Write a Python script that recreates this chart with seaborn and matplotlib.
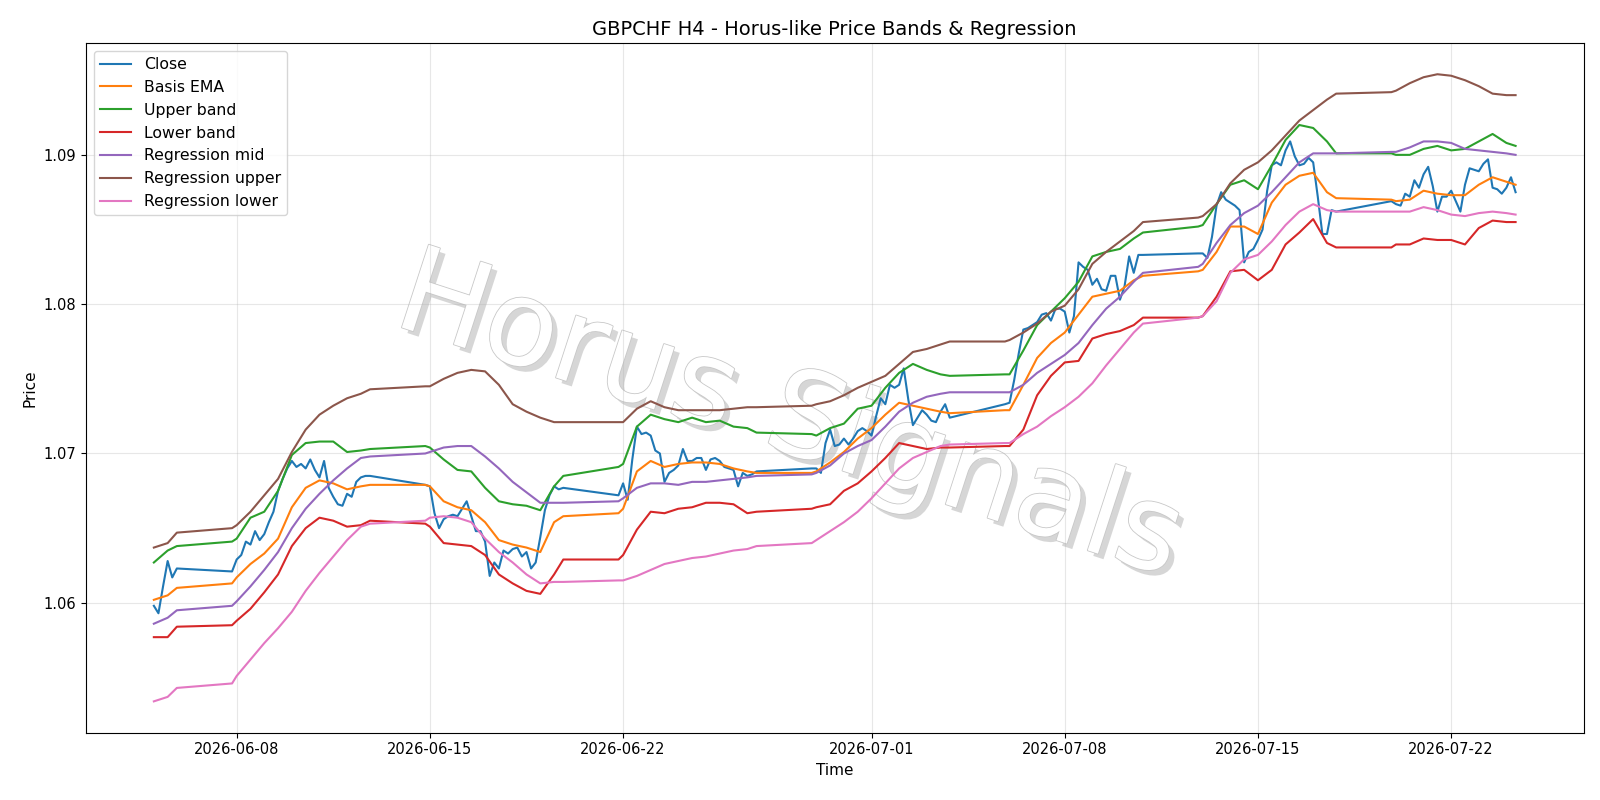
import numpy as np
import pandas as pd
import matplotlib
matplotlib.use("Agg")
import matplotlib.pyplot as plt
import matplotlib.patheffects as pe
import seaborn as sns

# ---------------- data ----------------
# H4 bar closes, one value per bar (Fri 06-05 00:00 ... Fri 07-24 08:00, weekend gap)
close = [
    1.0598, 1.0593, 1.0611, 1.0628, 1.0617, 1.0623,          # 06-05
    1.0621,                                                   # Sun 06-07 20h
    1.0629, 1.0632, 1.0641, 1.0639, 1.0648, 1.0642,          # 06-08
    1.0646, 1.0654, 1.0661, 1.0675, 1.0683, 1.0690,          # 06-09
    1.0695, 1.0691, 1.0693, 1.0690, 1.0696, 1.0689,          # 06-10
    1.0684, 1.0695, 1.0677, 1.0671, 1.0666, 1.0665,          # 06-11
    1.0673, 1.0671, 1.0681, 1.0684, 1.0685, 1.0685,          # 06-12
    1.0679,                                                   # Sun 06-14
    1.0678, 1.0660, 1.0650, 1.0656, 1.0658, 1.0659,          # 06-15
    1.0658, 1.0663, 1.0668, 1.0658, 1.0648, 1.0648,          # 06-16
    1.0641, 1.0618, 1.0627, 1.0623, 1.0635, 1.0633,          # 06-17
    1.0636, 1.0637, 1.0631, 1.0634, 1.0623, 1.0627,          # 06-18
    1.0644, 1.0662, 1.0672, 1.0678, 1.0676, 1.0677,          # 06-19
    1.0672,                                                   # Sun 06-21
    1.0680, 1.0669, 1.0696, 1.0718, 1.0713, 1.0714,          # 06-22
    1.0712, 1.0702, 1.0700, 1.0681, 1.0687, 1.0689,          # 06-23
    1.0692, 1.0703, 1.0695, 1.0695, 1.0697, 1.0697,          # 06-24
    1.0689, 1.0696, 1.0697, 1.0695, 1.0691, 1.0690,          # 06-25
    1.0689, 1.0678, 1.0687, 1.0685, 1.0686, 1.0688,          # 06-26
    1.0690,                                                   # Sun 06-28
    1.0690, 1.0687, 1.0707, 1.0716, 1.0705, 1.0706,          # 06-29
    1.0710, 1.0706, 1.0710, 1.0715, 1.0717, 1.0715,          # 06-30
    1.0712, 1.0725, 1.0737, 1.0733, 1.0746, 1.0744,          # 07-01
    1.0746, 1.0757, 1.0736, 1.0719, 1.0724, 1.0729,          # 07-02
    1.0726, 1.0722, 1.0721, 1.0728, 1.0733, 1.0724,          # 07-03
    1.0733,                                                   # Sun 07-05
    1.0734, 1.0749, 1.0767, 1.0783, 1.0784, 1.0786,          # 07-06
    1.0788, 1.0793, 1.0794, 1.0789, 1.0797, 1.0797,          # 07-07
    1.0795, 1.0781, 1.0792, 1.0828, 1.0825, 1.0823,          # 07-08
    1.0813, 1.0817, 1.0810, 1.0809, 1.0819, 1.0819,          # 07-09
    1.0803, 1.0812, 1.0832, 1.0821, 1.0833, 1.0833,          # 07-10
    1.0834,                                                   # Sun 07-12
    1.0834, 1.0831, 1.0845, 1.0866, 1.0875, 1.0870,          # 07-13
    1.0868, 1.0866, 1.0863, 1.0828, 1.0835, 1.0837,          # 07-14
    1.0843, 1.0850, 1.0876, 1.0893, 1.0895, 1.0893,          # 07-15
    1.0903, 1.0909, 1.0899, 1.0893, 1.0894, 1.0898,          # 07-16
    1.0895, 1.0872, 1.0847, 1.0847, 1.0863, 1.0862,          # 07-17
    1.0869,                                                   # Sun 07-19
    1.0867, 1.0866, 1.0874, 1.0872, 1.0883, 1.0878,          # 07-20
    1.0887, 1.0892, 1.0879, 1.0862, 1.0872, 1.0872,          # 07-21
    1.0876, 1.0869, 1.0862, 1.0880, 1.0891, 1.0890,          # 07-22
    1.0889, 1.0894, 1.0897, 1.0878, 1.0877, 1.0874,          # 07-23
    1.0878, 1.0885, 1.0875,                                   # 07-24
]

# band values read at 00h/12h of each session day, plus Fri 20h and Sun 20h
basis_ema = [
    1.0602, 1.0605, 1.0610, 1.0613, 1.0617, 1.0626, 1.0633, 1.0643, 1.0664, 1.0677,
    1.0682, 1.0680, 1.0676, 1.0678, 1.0679, 1.0679, 1.0678, 1.0668, 1.0664, 1.0662,
    1.0654, 1.0642, 1.0639, 1.0637, 1.0634, 1.0654, 1.0658, 1.0660, 1.0663, 1.0688,
    1.0695, 1.0691, 1.0693, 1.0694, 1.0694, 1.0693, 1.0690, 1.0688, 1.0687, 1.0687,
    1.0688, 1.0694, 1.0701, 1.0710, 1.0717, 1.0726, 1.0734, 1.0732, 1.0730, 1.0728,
    1.0727, 1.0729, 1.0729, 1.0746, 1.0764, 1.0774, 1.0781, 1.0793, 1.0805, 1.0807,
    1.0809, 1.0816, 1.0819, 1.0822, 1.0823, 1.0835, 1.0852, 1.0852, 1.0847, 1.0868,
    1.0880, 1.0886, 1.0888, 1.0875, 1.0871, 1.0870, 1.0869, 1.0870, 1.0876, 1.0874,
    1.0873, 1.0873, 1.0880, 1.0885, 1.0882, 1.0880,
]
upper_band = [
    1.0627, 1.0635, 1.0638, 1.0641, 1.0643, 1.0657, 1.0661, 1.0675, 1.0699, 1.0707,
    1.0708, 1.0708, 1.0701, 1.0702, 1.0703, 1.0705, 1.0704, 1.0696, 1.0689, 1.0688,
    1.0677, 1.0668, 1.0666, 1.0665, 1.0662, 1.0678, 1.0685, 1.0691, 1.0693, 1.0718,
    1.0726, 1.0723, 1.0721, 1.0724, 1.0721, 1.0722, 1.0718, 1.0717, 1.0714, 1.0713,
    1.0712, 1.0717, 1.0720, 1.0730, 1.0732, 1.0744, 1.0754, 1.0760, 1.0756, 1.0753,
    1.0752, 1.0753, 1.0753, 1.0769, 1.0786, 1.0795, 1.0804, 1.0815, 1.0832, 1.0835,
    1.0837, 1.0844, 1.0848, 1.0852, 1.0853, 1.0867, 1.0880, 1.0883, 1.0877, 1.0893,
    1.0910, 1.0920, 1.0918, 1.0909, 1.0901, 1.0901, 1.0900, 1.0900, 1.0904, 1.0906,
    1.0903, 1.0904, 1.0909, 1.0914, 1.0908, 1.0906,
]
lower_band = [
    1.0577, 1.0577, 1.0584, 1.0585, 1.0588, 1.0596, 1.0607, 1.0619, 1.0638, 1.0650,
    1.0657, 1.0655, 1.0651, 1.0652, 1.0655, 1.0653, 1.0651, 1.0640, 1.0639, 1.0638,
    1.0632, 1.0619, 1.0613, 1.0608, 1.0606, 1.0619, 1.0629, 1.0629, 1.0632, 1.0649,
    1.0661, 1.0660, 1.0663, 1.0664, 1.0667, 1.0667, 1.0666, 1.0660, 1.0661, 1.0663,
    1.0664, 1.0666, 1.0675, 1.0680, 1.0688, 1.0697, 1.0707, 1.0705, 1.0703, 1.0704,
    1.0704, 1.0705, 1.0705, 1.0716, 1.0739, 1.0752, 1.0761, 1.0762, 1.0777, 1.0780,
    1.0782, 1.0786, 1.0791, 1.0791, 1.0792, 1.0805, 1.0822, 1.0823, 1.0816, 1.0823,
    1.0840, 1.0848, 1.0857, 1.0841, 1.0838, 1.0838, 1.0840, 1.0840, 1.0844, 1.0843,
    1.0843, 1.0840, 1.0851, 1.0856, 1.0855, 1.0855,
]
reg_mid = [
    1.0586, 1.0590, 1.0595, 1.0598, 1.0601, 1.0611, 1.0622, 1.0634, 1.0650, 1.0663,
    1.0673, 1.0682, 1.0690, 1.0697, 1.0698, 1.0700, 1.0701, 1.0704, 1.0705, 1.0705,
    1.0698, 1.0690, 1.0681, 1.0674, 1.0667, 1.0667, 1.0667, 1.0668, 1.0670, 1.0677,
    1.0680, 1.0680, 1.0679, 1.0681, 1.0681, 1.0682, 1.0683, 1.0684, 1.0685, 1.0686,
    1.0687, 1.0692, 1.0700, 1.0705, 1.0709, 1.0718, 1.0728, 1.0734, 1.0738, 1.0740,
    1.0741, 1.0741, 1.0741, 1.0746, 1.0754, 1.0760, 1.0766, 1.0774, 1.0786, 1.0797,
    1.0805, 1.0815, 1.0821, 1.0825, 1.0827, 1.0841, 1.0853, 1.0861, 1.0866, 1.0875,
    1.0885, 1.0895, 1.0901, 1.0901, 1.0901, 1.0902, 1.0902, 1.0905, 1.0909, 1.0909,
    1.0908, 1.0904, 1.0903, 1.0902, 1.0901, 1.0900,
]
reg_upper = [
    1.0637, 1.0640, 1.0647, 1.0650, 1.0652, 1.0661, 1.0672, 1.0683, 1.0701, 1.0716,
    1.0726, 1.0732, 1.0737, 1.0740, 1.0743, 1.0745, 1.0745, 1.0750, 1.0754, 1.0756,
    1.0755, 1.0746, 1.0733, 1.0728, 1.0724, 1.0721, 1.0721, 1.0721, 1.0721, 1.0730,
    1.0735, 1.0731, 1.0729, 1.0729, 1.0729, 1.0729, 1.0730, 1.0731, 1.0731, 1.0732,
    1.0733, 1.0735, 1.0739, 1.0744, 1.0748, 1.0752, 1.0760, 1.0768, 1.0770, 1.0773,
    1.0775, 1.0775, 1.0776, 1.0781, 1.0787, 1.0795, 1.0799, 1.0810, 1.0827, 1.0835,
    1.0842, 1.0849, 1.0855, 1.0858, 1.0859, 1.0867, 1.0881, 1.0890, 1.0895, 1.0903,
    1.0913, 1.0923, 1.0930, 1.0937, 1.0941, 1.0942, 1.0943, 1.0948, 1.0952, 1.0954,
    1.0953, 1.0950, 1.0946, 1.0941, 1.0940, 1.0940,
]
reg_lower = [
    1.0534, 1.0537, 1.0543, 1.0546, 1.0551, 1.0562, 1.0573, 1.0583, 1.0594, 1.0608,
    1.0620, 1.0631, 1.0642, 1.0651, 1.0653, 1.0655, 1.0657, 1.0658, 1.0657, 1.0654,
    1.0643, 1.0634, 1.0627, 1.0619, 1.0613, 1.0614, 1.0614, 1.0615, 1.0615, 1.0618,
    1.0622, 1.0626, 1.0628, 1.0630, 1.0631, 1.0633, 1.0635, 1.0636, 1.0638, 1.0640,
    1.0642, 1.0648, 1.0654, 1.0661, 1.0670, 1.0680, 1.0690, 1.0697, 1.0701, 1.0705,
    1.0706, 1.0707, 1.0707, 1.0713, 1.0718, 1.0725, 1.0731, 1.0738, 1.0747, 1.0759,
    1.0770, 1.0781, 1.0787, 1.0791, 1.0792, 1.0802, 1.0821, 1.0830, 1.0833, 1.0842,
    1.0853, 1.0862, 1.0867, 1.0863, 1.0862, 1.0862, 1.0862, 1.0862, 1.0865, 1.0863,
    1.0860, 1.0859, 1.0861, 1.0862, 1.0861, 1.0860,
]

series_labels = ["Close", "Basis EMA", "Upper band", "Lower band",
                 "Regression mid", "Regression upper", "Regression lower"]
title = "GBPCHF H4 - Horus-like Price Bands & Regression"
watermark = "Horus Signals"

# ---------------- time axes ----------------
rng = pd.date_range("2026-06-05 00:00", "2026-07-24 08:00", freq="4h")
bars = rng[(rng.weekday < 5) | ((rng.weekday == 6) & (rng.hour == 20))]
knots = rng[((rng.weekday < 5) & np.isin(rng.hour, [0, 12]))
            | ((rng.weekday == 4) & (rng.hour == 20))
            | ((rng.weekday == 6) & (rng.hour == 20))]
knots = knots.union(pd.DatetimeIndex([rng[-1]]))

# ---------------- plot ----------------
fig, ax = plt.subplots(figsize=(16, 8), dpi=100)
fig.subplots_adjust(left=0.0536, right=0.9898, top=0.9464, bottom=0.0841)
palette = sns.color_palette("tab10")

sns.lineplot(x=bars, y=close, ax=ax, color=palette[0], label=series_labels[0], lw=1.5)
band_data = [basis_ema, upper_band, lower_band, reg_mid, reg_upper, reg_lower]
for i, vals in enumerate(band_data, start=1):
    sns.lineplot(x=knots, y=vals, ax=ax, color=palette[i], label=series_labels[i], lw=1.5)

ax.set_title(title, fontsize=14)
ax.set_xlabel("Time", fontsize=11)
ax.set_ylabel("Price", fontsize=11)
ax.tick_params(labelsize=10.5)
ax.grid(True, alpha=0.3)
ax.legend(loc="upper left", fontsize=11.3)

ax.text(0.47, 0.455, watermark, transform=ax.transAxes, ha="center", va="center",
        fontsize=86, rotation=-18, color="white", zorder=0.5,
        path_effects=[pe.SimplePatchShadow(offset=(4, -4), shadow_rgbFace="#b5b5b5", alpha=0.55),
                      pe.Stroke(linewidth=1.2, foreground="#c8c8c8"),
                      pe.Normal()])

fig.savefig("out.png", dpi=100)
